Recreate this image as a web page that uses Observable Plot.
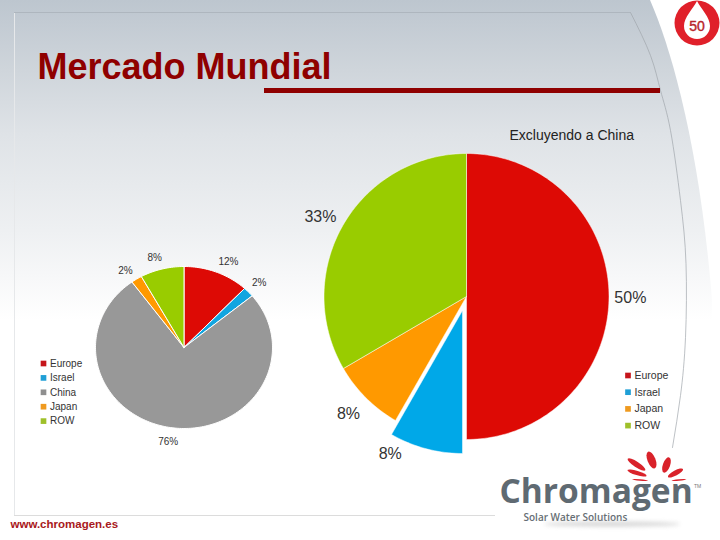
<!DOCTYPE html>
<html>
<head>
<meta charset="utf-8">
<script src="https://cdn.jsdelivr.net/npm/d3@7"></script>
<script src="https://cdn.jsdelivr.net/npm/@observablehq/plot@0.6"></script>
<style>
  body { margin: 0; background: #fff; }
  #slide { position: relative; width: 720px; height: 540px; overflow: hidden; }
  #bg {
    position: absolute; left: 0; top: 0; width: 720px; height: 540px;
    background: linear-gradient(#bdc6cf 0, #cfd5db 70px, #dfe3e7 135px, #eef0f2 230px, #fff 320px);
    clip-path: path("M0 0 L650 0 C672 50 700 150 712 300 L712 540 L0 540 Z");
  }
  #chart { position: absolute; left: 0; top: 0; }
</style>
</head>
<body>
<div id="slide">
  <div id="bg"></div>
  <div id="chart"></div>
</div>
<script>
// valores
const worldNames = ['Europe', 'Israel', 'China', 'Japan', 'ROW']
const worldValues = [12, 2, 76, 2, 8]
const worldLabels = ['12%', '2%', '76%', '2%', '8%']
const worldColours = ['#dd0a05', '#12a5e0', '#989898', '#ff9900', '#99cc00']

const exChinaNames = ['Europe', 'Israel', 'Japan', 'ROW']
const exChinaValues = [50, 8.3, 8.3, 33.4]
const exChinaLabels = ['50%', '8%', '8%', '33%']
const exChinaColours = ['#dd0a05', '#00a8e8', '#ff9900', '#99cc00']

const legendWorld = ['#c5151b', '#1f9fd6', '#8f8f8f', '#ef9a1f', '#9fc02a']
const legendExChina = ['#c5151b', '#1f9fd6', '#ef9a1f', '#9fc02a']

// donde va cada torta en la diapositiva
const small = {cx: 183.5, cy: 347, rx: 88.5, ry: 81, offsets: [[0, 0], [0, 0], [0, 0], [0, 0], [0, 0]],
  nudges: [[7, 1], [1, -1], [-3, 1.5], [-4, 2], [-4, 1]]}
const big = {cx: 466, cy: 296, rx: 142.5, ry: 143, offsets: [[0, 0], [-4, 14], [0, 0], [0, 0]],
  nudges: [[0, 1], [-34, -2], [-2.5, 1], [-4, 2]]}

function slices(names, values, colours, p) {
  let out = []
  d3.pie().sort(null)(values).forEach((s, i) => {
    let [ox, oy] = p.offsets[i]
    out.push({name: names[i], colour: colours[i], x: p.cx + ox, y: p.cy + oy})
    let steps = Math.max(4, Math.ceil((s.endAngle - s.startAngle) * 40))
    for (let k = 0; k <= steps; k++) {
      let a = s.startAngle + (s.endAngle - s.startAngle) * k / steps
      out.push({name: names[i], colour: colours[i],
        x: p.cx + ox + p.rx * Math.sin(a), y: p.cy + oy - p.ry * Math.cos(a)})
    }
    out.push({name: names[i], colour: colours[i], x: p.cx + ox, y: p.cy + oy})
  })
  return out
}

function pieLabels(labels, values, p) {
  return d3.pie().sort(null)(values).map((s, i) => {
    let a = (s.startAngle + s.endAngle) / 2
    return {
      label: labels[i],
      x: p.cx + 1.15 * p.rx * Math.sin(a) + p.nudges[i][0],
      y: p.cy - 1.15 * p.ry * Math.cos(a) + p.nudges[i][1]
    }
  })
}

const legendRows = (names, colours, x, top, step) =>
  names.map((name, i) => ({name, colour: colours[i], x, y: top + i * step}))

const sans = 'Liberation Sans, Arial, sans-serif'

const innerCurve = [[630, 12], [650, 55], [660, 90], [670, 130], [680, 200], [685.5, 263], [685, 337], [680, 395], [672, 447]]

let chart = Plot.plot({
  width: 720,
  height: 540,
  margin: 0,
  x: {domain: [0, 720], range: [0, 720], axis: null},
  y: {domain: [0, 540], range: [0, 540], axis: null},
  style: {background: 'transparent', fontFamily: sans},
  marks: [
    // marco de la plantilla
    Plot.ruleX([14], {y1: 12, y2: 515, stroke: '#e6e8ea', strokeWidth: 1}),
    Plot.ruleY([12], {x1: 14, x2: 630, stroke: '#aeb6be', strokeWidth: 1}),
    Plot.ruleY([515], {x1: 14, x2: 495, stroke: '#dcdcdc', strokeWidth: 1}),
    Plot.line(innerCurve, {x: d => d[0], y: d => d[1], curve: 'natural', stroke: '#a0a6ac', strokeWidth: 0.7}),
    Plot.ruleY([90], {x1: 264, x2: 660, stroke: '#8f0000', strokeWidth: 5}),

    Plot.text(['Mercado Mundial'], {x: 37, y: 67, textAnchor: 'start', fontSize: 36, fontWeight: 'bold', fill: '#8f0000'}),
    Plot.text(['Excluyendo a China'], {x: 509, y: 135, textAnchor: 'start', fontSize: 14, fill: '#222'}),
    Plot.text(['www.chromagen.es'], {x: 10, y: 524, textAnchor: 'start', fontSize: 11.5, fontWeight: 'bold', fill: '#a81820'}),

    // tortas
    Plot.line(slices(worldNames, worldValues, worldColours, small), {
      x: 'x', y: 'y', z: 'name', fill: 'colour', stroke: '#fff', strokeWidth: 1, curve: 'linear'
    }),
    Plot.line(slices(exChinaNames, exChinaValues, exChinaColours, big), {
      x: 'x', y: 'y', z: 'name', fill: 'colour', stroke: '#fff', strokeWidth: 0.5, curve: 'linear'
    }),
    Plot.text(pieLabels(worldLabels, worldValues, small), {x: 'x', y: 'y', text: 'label', fontSize: 10, fill: '#333'}),
    Plot.text(pieLabels(exChinaLabels, exChinaValues, big), {x: 'x', y: 'y', text: 'label', fontSize: 16, fill: '#333'}),

    // leyendas
    Plot.dot(legendRows(worldNames, legendWorld, 43, 363, 14.4), {x: 'x', y: 'y', fill: 'colour', symbol: 'square', r: 3.2}),
    Plot.text(legendRows(worldNames, legendWorld, 49.5, 363, 14.4), {x: 'x', y: 'y', text: 'name', textAnchor: 'start', fontSize: 10, fill: '#333'}),
    Plot.dot(legendRows(exChinaNames, legendExChina, 627.5, 375, 16.7), {x: 'x', y: 'y', fill: 'colour', symbol: 'square', r: 3.2}),
    Plot.text(legendRows(exChinaNames, legendExChina, 634, 375, 16.7), {x: 'x', y: 'y', text: 'name', textAnchor: 'start', fontSize: 10.5, fill: '#333'}),

    // logo
    Plot.text(['Chromagen'], {x: 499, y: 492, textAnchor: 'start', fontSize: 33.5, fontWeight: 'bold', fontFamily: 'Open Sans', fill: '#5f6a72'}),
    Plot.text(['Solar Water Solutions'], {x: 523, y: 517, textAnchor: 'start', fontSize: 10, fontWeight: 600, fontFamily: 'Open Sans', fill: '#666e74'}),
    Plot.text(['TM'], {x: 697, y: 486, fontSize: 5, fill: '#777'})
  ]
})

document.querySelector('#chart').append(chart)

// petalos, sombra y sello: no son datos, van directo al svg
let svg = d3.select(chart)
let deco = svg.append('g')
deco.append('ellipse').attr('cx', 612).attr('cy', 524).attr('rx', 68).attr('ry', 2.5)
  .attr('fill', '#bbb').attr('opacity', 0.6).style('filter', 'blur(2px)')

const petals = [[636.5, 464.5, 10.5, 2.8, 33], [651.5, 460, 9, 4, 68], [666.5, 465, 8, 3.6, 110], [675.5, 473, 8.5, 2.6, 152], [637, 473, 10, 2.2, 17], [640, 480, 8, 0.8, 5], [679, 480, 7.5, 0.8, 175]]
petals.forEach(([x, y, a, b, rot]) => {
  deco.append('ellipse').attr('cx', x).attr('cy', y).attr('rx', a).attr('ry', b)
    .attr('transform', `rotate(${rot} ${x} ${y})`).attr('fill', '#d9222a')
})

deco.append('circle').attr('cx', 697).attr('cy', 23).attr('r', 22.5).attr('fill', '#e0202a')
deco.append('path').attr('d', 'M697 1 C701 9 710 17 710 26 A13 13 0 0 1 684 26 C684 17 693 9 697 1 Z').attr('fill', '#fff')
deco.append('text').attr('x', 697).attr('y', 31).attr('text-anchor', 'middle')
  .attr('font-size', 14).attr('font-family', sans).attr('stroke', '#b8242c').attr('stroke-width', 0.4).attr('fill', '#b8242c').text('50')
</script>
</body>
</html>
